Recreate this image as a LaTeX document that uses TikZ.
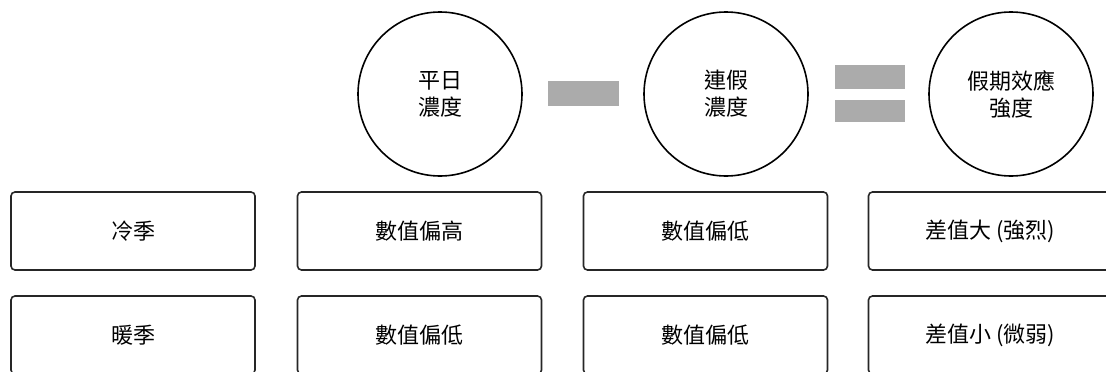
\documentclass[tikz,border=0pt]{standalone}
\usepackage{fontspec}
\newfontfamily\cjk{Noto Sans CJK TC}
\begin{document}
\begin{tikzpicture}[x=1pt,y=-1pt,
  txt/.style={font=\cjk\fontsize{22}{27}\selectfont, align=center, text=black},
  circ/.style={txt, circle, draw=black, line width=1.6pt, minimum size=164pt, inner sep=0pt},
  cell/.style={txt, draw=black!85, line width=1.6pt, rounded corners=4pt, minimum width=244pt, minimum height=78pt, inner sep=0pt},
  bar/.style={fill=bargray, draw=none, inner sep=0pt}
]
\definecolor{bargray}{HTML}{ABABAB}
\useasboundingbox (0,0) rectangle (1106,372);
\clip (0,0) rectangle (1106,372);
\fill[white] (0,0) rectangle (1106,372);
% circles
\node[circ] (weekday) at (440,94) {平日\\濃度};
\node[circ] (holiday) at (726,94) {連假\\濃度};
\node[circ] (effect) at (1011,94) {假期效應\\強度};
% operators
\node[bar, minimum width=71pt, minimum height=25pt] (minus) at (583.5,93.5) {};
\node[bar, minimum width=70pt, minimum height=24pt] (eqtop) at (870,77) {};
\node[bar, minimum width=70pt, minimum height=22pt] (eqbot) at (870,111) {};
% row 1
\node[cell] (cold) at (133,231) {冷季};
\node[cell] (coldwd) at (419.5,231) {數值偏高};
\node[cell] (coldhd) at (705.5,231) {數值偏低};
\node[cell] (coldef) at (990.5,231) {差值大 (強烈)};
% row 2
\node[cell] (warm) at (133,335) {暖季};
\node[cell] (warmwd) at (419.5,335) {數值偏低};
\node[cell] (warmhd) at (705.5,335) {數值偏低};
\node[cell] (warmef) at (990.5,335) {差值小 (微弱)};
\end{tikzpicture}
\end{document}
